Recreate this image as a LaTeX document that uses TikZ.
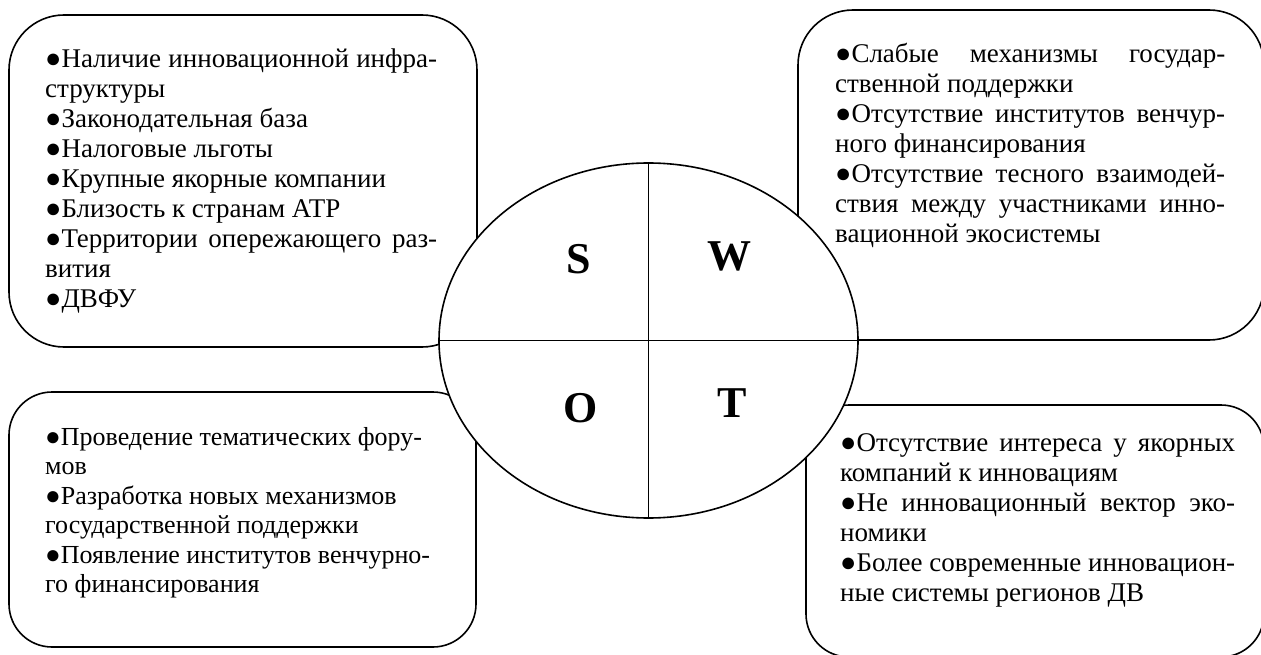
\documentclass[tikz,border=0pt]{standalone}
\usepackage{fontspec}
\setmainfont{Liberation Serif}
\usetikzlibrary{shapes.geometric}
\newcommand\JL[1]{\makebox[\linewidth][s]{#1}}
\tikzset{
  swotbox/.style={draw=black, line width=1.6pt},
  swotell/.style={ellipse, draw=black, fill=white, line width=1.6pt, inner sep=0pt,
                  minimum width=419pt, minimum height=355pt},
  divider/.style={draw=black, line width=1.6pt},
  letter/.style={anchor=base, inner sep=0pt, font=\fontsize{44}{44}\selectfont\bfseries},
  boxtext/.style={anchor=base west, inner sep=0pt}
}
\begin{document}
\begin{tikzpicture}[x=1pt,y=-1pt]
\useasboundingbox (0,0) rectangle (1261,655);
\clip (0,0) rectangle (1261,655);
% boxes
\draw[swotbox, rounded corners=55pt] (9,15) rectangle (477,347);
\draw[swotbox, rounded corners=55pt] (798,10) rectangle (1264,340);
\draw[swotbox, rounded corners=43pt] (9,392) rectangle (476,647);
\draw[swotbox, rounded corners=43pt] (806,405) rectangle (1264,657);
% central ellipse
\node[swotell] (e) at (648.5,340.5) {};
\draw[divider] (e.north) -- (e.south);
\draw[divider] (e.west) -- (e.east);
\node[letter] (ls) at (579,273) {S};
\node[letter] (lw) at (729,270) {W};
\node[letter] (lo) at (581,422) {O};
\node[letter] (lt) at (732,417) {T};
% texts
\node[boxtext] (ts) at (45,68) {\begin{minipage}[t]{392pt}\fontsize{27}{30}\selectfont\parindent=0pt
\JL{●Наличие инновационной инфра-}\\
структуры\\
●Законодательная база\\
●Налоговые льготы\\
●Крупные якорные компании\\
●Близость к странам АТР\\
\JL{●Территории опережающего раз-}\\
вития\\
●ДВФУ
\end{minipage}};
\node[boxtext] (tw) at (835,63) {\begin{minipage}[t]{390pt}\fontsize{27}{30}\selectfont\parindent=0pt
\JL{●Слабые механизмы государ-}\\
ственной поддержки\\
\JL{●Отсутствие институтов венчур-}\\
ного финансирования\\
\JL{●Отсутствие тесного взаимодей-}\\
\JL{ствия между участниками инно-}\\
вационной экосистемы
\end{minipage}};
\node[boxtext] (to) at (45,445) {\begin{minipage}[t]{420pt}\fontsize{26}{29.5}\selectfont\parindent=0pt
●Проведение тематических фору-\\
мов\\
●Разработка новых механизмов\\
государственной поддержки\\
●Появление институтов венчурно-\\
го финансирования
\end{minipage}};
\node[boxtext] (tt) at (840,451) {\begin{minipage}[t]{395pt}\fontsize{27}{30}\selectfont\parindent=0pt
\JL{●Отсутствие интереса у якорных}\\
компаний к инновациям\\
\JL{●Не инновационный вектор эко-}\\
номики\\
\JL{●Более современные инновацион-}\\
ные системы регионов ДВ
\end{minipage}};
\end{tikzpicture}
\end{document}
